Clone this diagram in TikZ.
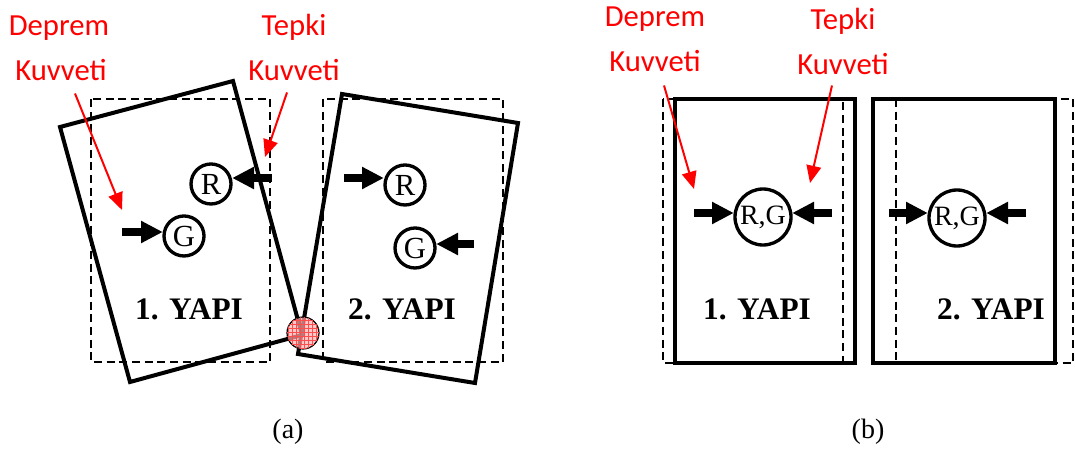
\documentclass[tikz,border=0pt]{standalone}
\usepackage{fontspec}
\setmainfont{Liberation Serif}
\newfontfamily\labelfont{Carlito}
\usetikzlibrary{arrows.meta,
	patterns}

\begin{document}
\begin{tikzpicture}[x=0.75pt,y=-0.75pt]
    \tikzstyle{wall}=[line width=3pt,line join=miter]
    \tikzstyle{ghost}=[line width=1.1pt,dash pattern=on 6pt off 3.5pt]
    \tikzstyle{force}=[circle,draw,line width=2.5pt,minimum size=30pt,inner sep=0pt,font=\fontsize{23}{23}\selectfont]
    \tikzstyle{bigforce}=[force,minimum size=42pt,font=\fontsize{21}{21}\selectfont]
    \tikzstyle{push}=[line width=6pt,-{Triangle[length=16pt,width=17pt,line width=0pt]}]
    \tikzstyle{redlbl}=[text=red,anchor=base,inner sep=0pt,font=\labelfont\fontsize{23}{23}\selectfont]
    \tikzstyle{redarrow}=[red,line width=1.5pt,-{Triangle[length=13pt,width=11pt]}]
    \tikzstyle{yapi}=[anchor=base,inner sep=0pt,font=\bfseries\fontsize{23.5}{23.5}\selectfont]
    \tikzstyle{caption}=[font=\fontsize{21}{21}\selectfont]
    \tikzstyle{contact}=[circle,draw,line width=0.9pt,minimum size=24pt,inner sep=0pt,fill=red!30,fill opacity=0.7,postaction={pattern=grid,pattern color=red!70}]
    \useasboundingbox (0,0) rectangle (1075,452);
    \draw[ghost] (91,99) rectangle (270,362);
    \draw[ghost] (323,99) rectangle (503,362);
    \draw[wall] (60,127) -- (233,81) -- (302,335) -- (130,382) -- cycle;
    \draw[wall] (342,94) -- (518,123) -- (475,383) -- (298,354) -- cycle;
    \node[contact] (hit) at (303,333) {};
    \node[force] (R1a) at (211,184) {R};
    \node[force] (G1a) at (184,236) {G};
    \node[force] (R2a) at (405,185) {R};
    \node[force] (G2a) at (415,248) {G};
    \coordinate (pR1a) at (272,178);
    \coordinate (pG1a) at (122,232);
    \coordinate (pR2a) at (344,178);
    \coordinate (pG2a) at (474,244);
    \draw[push] (pR1a) -- (pR1a -| R1a.east);
    \draw[push] (pG1a) -- (pG1a -| G1a.west);
    \draw[push] (pR2a) -- (pR2a -| R2a.west);
    \draw[push] (pG2a) -- (pG2a -| G2a.east);
    \node[yapi] (yapi1a) at (189,320) {1. YAPI};
    \node[yapi] (yapi2a) at (402,320) {2. YAPI};
    \node[redlbl] (dep1a) at (59,36) {Deprem};
    \node[redlbl] (kuv1a) at (61,81) {Kuvveti};
    \node[redlbl] (tep2a) at (294,36) {Tepki};
    \node[redlbl] (kuv2a) at (294,81) {Kuvveti};
    \coordinate (tip1a) at (122,210);
    \coordinate (tip2a) at (265,157);
    \draw[redarrow] (kuv1a.south) ++(14,12) -- (tip1a);
    \draw[redarrow] (kuv2a.south) ++(-7,11) -- (tip2a);
    \draw[ghost] (663,99) rectangle (843,363);
    \draw[ghost] (896,99) rectangle (1073,363);
    \draw[wall] (675,99) rectangle (855,363);
    \draw[wall] (873,99) rectangle (1055,363);
    \node[bigforce] (RG1b) at (763,217) {R,G};
    \node[bigforce] (RG2b) at (957,218) {R,G};
    \coordinate (pL1b) at (694,213);
    \coordinate (pR1b) at (832,213);
    \coordinate (pL2b) at (889,213);
    \coordinate (pR2b) at (1026,213);
    \draw[push] (pL1b) -- (pL1b -| RG1b.west);
    \draw[push] (pR1b) -- (pR1b -| RG1b.east);
    \draw[push] (pL2b) -- (pL2b -| RG2b.west);
    \draw[push] (pR2b) -- (pR2b -| RG2b.east);
    \node[yapi] (yapi1b) at (757,320) {1. YAPI};
    \node[yapi] (yapi2b) at (991,320) {2. YAPI};
    \node[redlbl] (dep1b) at (655,27) {Deprem};
    \node[redlbl] (kuv1b) at (655,72) {Kuvveti};
    \node[redlbl] (tep2b) at (843,30) {Tepki};
    \node[redlbl] (kuv2b) at (843,75) {Kuvveti};
    \coordinate (tip1b) at (694,189);
    \coordinate (tip2b) at (810,183);
    \draw[redarrow] (kuv1b.south) ++(9,13) -- (tip1b);
    \draw[redarrow] (kuv2b.south) ++(-11,10) -- (tip2b);
    \node[caption] (capa) at (288,432) {(a)};
    \node[caption] (capb) at (868,432) {(b)};
  \end{tikzpicture}
\end{document}
